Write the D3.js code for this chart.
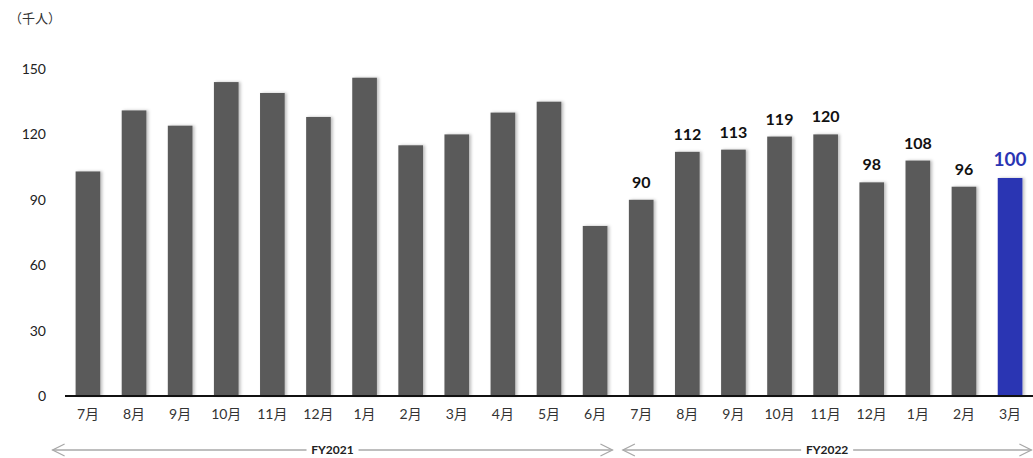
<!DOCTYPE html>
<html>
<head>
<meta charset="utf-8">
<script src="https://cdn.jsdelivr.net/npm/d3@7"></script>
<style>
  body { margin: 0; background: #fff; }
  text { font-family: "Lato", "Noto Sans CJK JP", sans-serif; }
</style>
</head>
<body>
<div id="container"></div>
<script>
// data
var months = ['7月', '8月', '9月', '10月', '11月', '12月', '1月', '2月', '3月', '4月', '5月', '6月',
              '7月', '8月', '9月', '10月', '11月', '12月', '1月', '2月', '3月']
var values = [103, 131, 124, 144, 139, 128, 146, 115, 120, 130, 135, 78,
              90, 112, 113, 119, 120, 98, 108, 96, 100]
var showLabel = [0, 0, 0, 0, 0, 0, 0, 0, 0, 0, 0, 0,
                 1, 1, 1, 1, 1, 1, 1, 1, 1]
var yTicks = [0, 30, 60, 90, 120, 150]
var periods = [
    { name: 'FY2021', from: 0, to: 11 },
    { name: 'FY2022', from: 12, to: 20 }
]

var width = 1033, height = 458
var last = values.length - 1

var svg = d3.select('#container').append('svg')
    .attr('width', width)
    .attr('height', height)

var defs = svg.append('defs')
var shadow = defs.append('filter').attr('id', 'shadow')
    .attr('x', '-20%').attr('y', '-5%').attr('width', '160%').attr('height', '110%')
shadow.append('feDropShadow')
    .attr('dx', 2).attr('dy', 0).attr('stdDeviation', 1.5)
    .attr('flood-color', '#000').attr('flood-opacity', 0.25)

var x = d3.scaleBand()
    .domain(d3.range(months.length))
    .range([65, 1033])
    .paddingInner(0.465)
    .paddingOuter(0.23)

var y = d3.scaleLinear().domain([0, 150]).range([396, 69])

// unit label
svg.append('text')
    .attr('x', 9).attr('y', 23)
    .style('font-size', '13px').style('fill', '#333')
    .text('（千人）')

// y tick labels
svg.selectAll('.ytick').data(yTicks).enter().append('text')
    .attr('class', 'ytick')
    .attr('x', 46).attr('y', function(d) { return y(d) })
    .attr('dy', '.35em')
    .attr('text-anchor', 'end')
    .style('font-size', '14px').style('fill', '#222')
    .text(function(d) { return d })

// bars
svg.selectAll('.bar').data(values).enter().append('rect')
    .attr('class', 'bar')
    .attr('x', function(d, i) { return x(i) })
    .attr('y', function(d) { return y(d) })
    .attr('width', x.bandwidth())
    .attr('height', function(d) { return y(0) - y(d) })
    .style('fill', function(d, i) { return i === last ? '#2a34b3' : '#5a5a5a' })
    .attr('filter', 'url(#shadow)')

// value labels (indices with a label)
var labelIdx = d3.range(values.length).filter(function(i) { return showLabel[i] })
svg.selectAll('.vlabel').data(labelIdx).enter().append('text')
    .attr('class', 'vlabel')
    .attr('x', function(i) { return x(i) + x.bandwidth() / 2 })
    .attr('y', function(i) { return y(values[i]) - 12 })
    .attr('text-anchor', 'middle')
    .style('font-weight', 'bold')
    .style('font-size', function(i) { return i === last ? '19px' : '16px' })
    .style('fill', function(i) { return i === last ? '#2a34b3' : '#111' })
    .text(function(i) { return values[i] })

// axis baseline
svg.append('line')
    .attr('x1', 65).attr('x2', 1033)
    .attr('y1', y(0)).attr('y2', y(0))
    .style('stroke', '#111').style('stroke-width', 2)

// month labels
svg.selectAll('.month').data(months).enter().append('text')
    .attr('class', 'month')
    .attr('x', function(d, i) { return x(i) + x.bandwidth() / 2 })
    .attr('y', 419)
    .attr('text-anchor', 'middle')
    .style('font-size', '14px').style('fill', '#333')
    .text(function(d) { return d })

// period arrows
var arrowY = 450
periods.forEach(function(p) {
    var x1 = x(p.from) - (p.from === 0 ? 23 : 6)
    var x2 = x(p.to) + x.bandwidth() + (p.to === last ? 9 : 5)
    var g = svg.append('g').style('stroke', '#a8a8a8').style('fill', 'none').style('stroke-width', 1.3)
    g.append('line').attr('x1', x1).attr('x2', x2).attr('y1', arrowY).attr('y2', arrowY)
    g.append('polyline').attr('points', (x1 + 12) + ',' + (arrowY - 6) + ' ' + x1 + ',' + arrowY + ' ' + (x1 + 12) + ',' + (arrowY + 6))
    g.append('polyline').attr('points', (x2 - 12) + ',' + (arrowY - 6) + ' ' + x2 + ',' + arrowY + ' ' + (x2 - 12) + ',' + (arrowY + 6))
    var cx = (x1 + x2) / 2
    svg.append('rect')
        .attr('x', cx - 26).attr('y', arrowY - 7)
        .attr('width', 52).attr('height', 14)
        .style('fill', '#fff')
    svg.append('text')
        .attr('x', cx).attr('y', arrowY)
        .attr('dy', '.35em')
        .attr('text-anchor', 'middle')
        .style('font-size', '12px').style('font-weight', 'bold').style('fill', '#222')
        .text(p.name)
})
</script>
</body>
</html>
